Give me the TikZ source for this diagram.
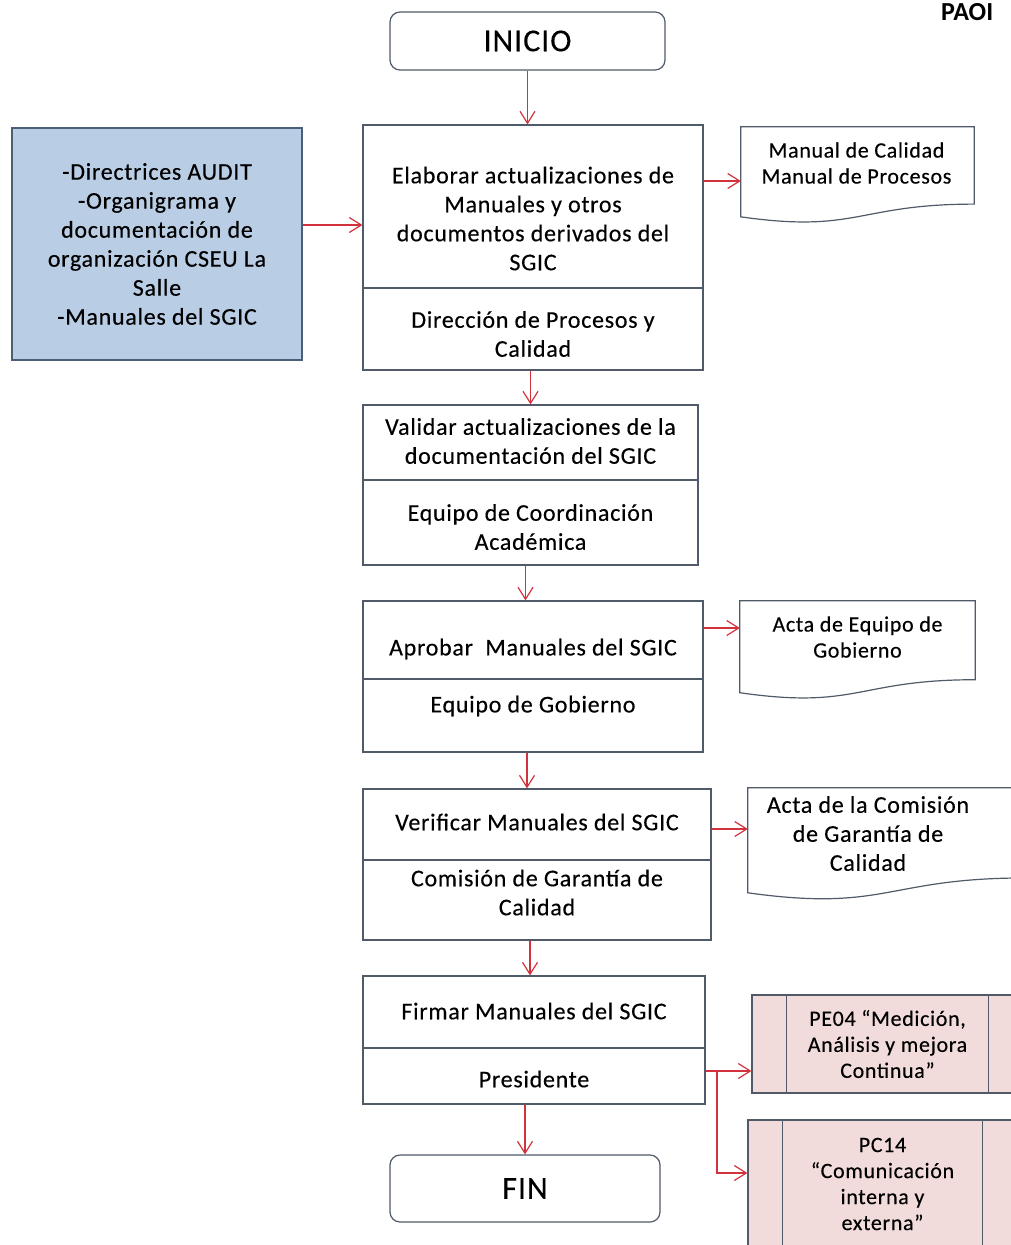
\documentclass[tikz,border=0pt]{standalone}
\usepackage{fontspec}
\setmainfont{Carlito}
\newfontfamily\boxfont{Carlito}[LetterSpace=3,FakeBold=0.3]
\usetikzlibrary{arrows.meta,calc,positioning}

\definecolor{boxline}{RGB}{80,90,105}
\definecolor{inblue}{RGB}{185,205,229}
\definecolor{inline}{RGB}{75,95,120}
\definecolor{procpink}{RGB}{242,220,219}
\definecolor{arrred}{RGB}{210,50,60}

\tikzset{
  stepbox/.style={draw=boxline, line width=1.2pt, fill=white, inner sep=0pt},
  txt/.style={align=center, font=\boxfont\fontsize{24}{29}\selectfont, inner sep=0pt},
  doctxt/.style={align=center, font=\boxfont\fontsize{22}{26}\selectfont, inner sep=0pt},
  term/.style={stepbox, rounded corners=10pt, font=\boxfont\fontsize{32}{38}\selectfont},
  framebox/.style={inner sep=0pt},
  procbox/.style={draw=boxline, line width=1.2pt, fill=procpink, inner sep=0pt},
  divline/.style={draw=boxline, line width=1.2pt},
  arr/.style={draw=arrred, line width=1.2pt, -{Straight Barb[length=12pt,width=15pt]}},
}

% documento con borde ondulado
\newcommand{\docshape}[1]{%
  \draw[divline, fill=white] (#1.north west) -- (#1.north east)
    -- ($(#1.north east)!0.802!(#1.south east)$)
    .. controls ($(#1.north)!0.802!(#1.south)$) and ($(#1.north)!1.107!(#1.south)$)
    .. ($(#1.north west)!0.934!(#1.south west)$) -- cycle;}
% barras del proceso predefinido
\newcommand{\procbars}[1]{%
  \draw[divline] ([xshift=35pt]#1.north west) -- ([xshift=35pt]#1.south west);
  \draw[divline] ([xshift=-35pt]#1.north east) -- ([xshift=-35pt]#1.south east);}

\begin{document}
\begin{tikzpicture}[x=1pt,y=-1pt]
\useasboundingbox (0,0) rectangle (1011,1245);

\node[anchor=base west, inner sep=0pt, font=\fontsize{26}{30}\selectfont\bfseries] (head) at (941,20) {PAOI};

\node[term, minimum width=275pt, minimum height=58pt] (inicio) at (527.5,41) {INICIO};

% entradas
\node[draw=inline, line width=1.2pt, fill=inblue, minimum width=290pt, minimum height=232pt, txt] (in) at (157,244)
  {-Directrices AUDIT\\-Organigrama y\\documentación de\\organización CSEU La\\Salle\\-Manuales del SGIC};

% elaborar
\node[stepbox, minimum width=340pt, minimum height=245pt] (b1) at (533,247.5) {};
\draw[divline] (b1.west |- 0,288) -- (b1.east |- 0,288);
\node[txt] (b1top) at (533,218.5) {Elaborar actualizaciones de\\Manuales y otros\\documentos derivados del\\SGIC};
\node[txt] (b1bot) at (533,334) {Dirección de Procesos y\\Calidad};

\node[framebox, minimum width=233pt, minimum height=96pt] (d1) at (857.5,175) {};
\docshape{d1}
\node[doctxt] (d1txt) at (856.5,163) {Manual de Calidad\\Manual de Procesos};

% validar
\node[stepbox, minimum width=335pt, minimum height=160pt] (b2) at (530.5,485) {};
\draw[divline] (b2.west |- 0,480) -- (b2.east |- 0,480);
\node[txt] (b2top) at (530.5,441) {Validar actualizaciones de la\\documentación del SGIC};
\node[txt] (b2bot) at (530.5,527) {Equipo de Coordinación\\Académica};

% aprobar
\node[stepbox, minimum width=340pt, minimum height=151pt] (b3) at (533,676.5) {};
\draw[divline] (b3.west |- 0,679) -- (b3.east |- 0,679);
\node[txt] (b3top) at (533,649) {Aprobar~ Manuales del SGIC};
\node[txt] (b3bot) at (533,706) {Equipo de Gobierno};

\node[framebox, minimum width=235pt, minimum height=98pt] (d2) at (857.5,650) {};
\docshape{d2}
\node[doctxt] (d2txt) at (857.5,637) {Acta de Equipo de\\Gobierno};

% verificar
\node[stepbox, minimum width=348pt, minimum height=151pt] (b4) at (537,864.5) {};
\draw[divline] (b4.west |- 0,860) -- (b4.east |- 0,860);
\node[txt] (b4top) at (537,822) {Verificar Manuales del SGIC};
\node[txt] (b4bot) at (537,892.5) {Comisión de Garantía de\\Calidad};

\node[framebox, minimum width=277pt, minimum height=112pt] (d3) at (886.5,844) {};
\docshape{d3}
\node[txt] (d3txt) at (868,833.5) {Acta de la Comisión\\de Garantía de\\Calidad};

% firmar
\node[stepbox, minimum width=342pt, minimum height=128pt] (b5) at (534,1040) {};
\draw[divline] (b5.west |- 0,1048) -- (b5.east |- 0,1048);
\node[txt] (b5top) at (534,1011) {Firmar Manuales del SGIC};
\node[txt] (b5bot) at (534,1079) {Presidente};

\node[term, minimum width=270pt, minimum height=67pt] (fin) at (525,1188.5) {FIN};

% procesos relacionados
\node[procbox, minimum width=271pt, minimum height=98pt] (pe04) at (887.5,1044) {};
\procbars{pe04}
\node[doctxt] (pe04txt) at (887.5,1044) {PE04 “Medición,\\Análisis y mejora\\Continua”};

\node[procbox, minimum width=269pt, minimum height=140pt] (pc14) at (882.5,1190) {};
\procbars{pc14}
\node[doctxt] (pc14txt) at (882.5,1184) {PC14\\“Comunicación\\interna y\\externa”};

\coordinate (split) at (717,1071);

% flechas
\draw[arr] (inicio) -- (inicio |- b1.north);
\draw[arr] (in.east |- 0,225) -- (b1.west |- 0,225);
\draw[arr] (b1.east |- 0,181) -- (d1.west |- 0,181);
\draw[arr] (b2.north |- b1.south) -- (b2.north);
\draw[arr] ([xshift=-5pt]b2.south) -- ([xshift=-5pt]b2.south |- b3.north);
\draw[arr] (b3.east |- 0,628) -- (d2.west |- 0,628);
\draw[arr] ([xshift=-6pt]b3.south) -- ([xshift=-6pt]b3.south |- b4.north);
\draw[arr] (b4.east |- 0,829) -- (d3.west |- 0,829);
\draw[arr] ([xshift=-7pt]b4.south) -- ([xshift=-7pt]b4.south |- b5.north);
\draw[arr] (fin.north |- b5.south) -- (fin.north);
\draw[arr] (b5.east |- split) -- (split -| pe04.west);
\draw[arr] (split) |- (pc14.west |- 0,1173);
\end{tikzpicture}
\end{document}
